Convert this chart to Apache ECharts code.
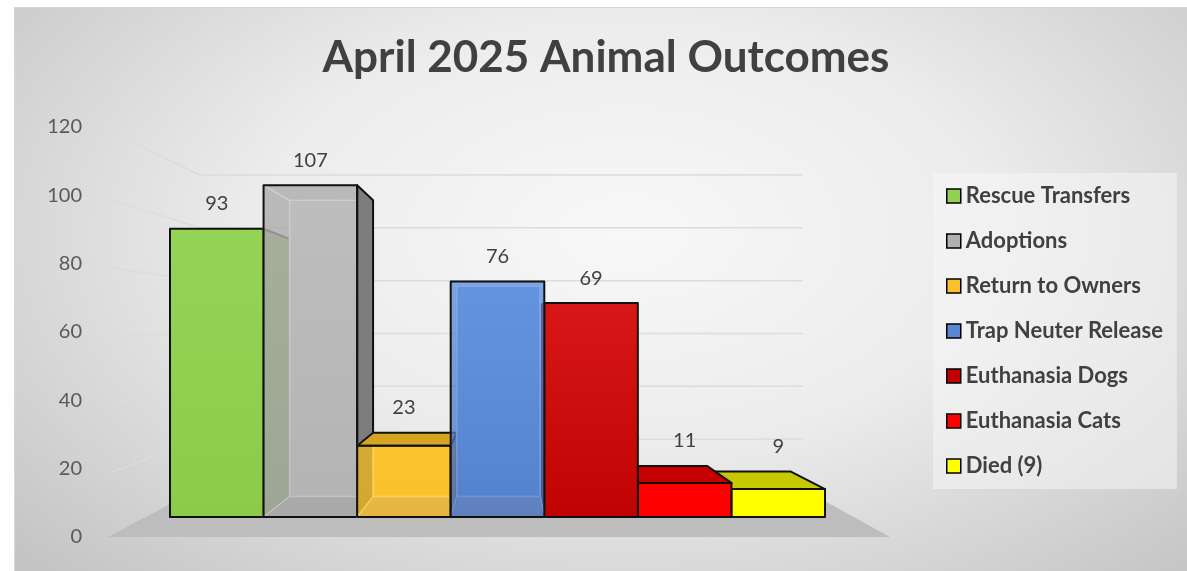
<!DOCTYPE html>
<html>
<head>
<meta charset="utf-8">
<script src="https://cdn.jsdelivr.net/npm/echarts@6/dist/echarts.min.js"></script>
<style>
html,body{margin:0;padding:0;background:#fff;}
#bg{position:absolute;left:14px;top:7px;width:1173px;height:564px;box-sizing:border-box;
  border-top:1px solid #d6d6d6;border-left:1px solid #d6d6d6;
  background:radial-gradient(ellipse 70% 85% at 52% 40%, #f8f8f8 0%, #ececec 45%, #c4c4c4 100%);}
#chart{position:absolute;left:0;top:0;width:1187px;height:571px;}
</style>
</head>
<body>
<div id="bg"></div>
<div id="chart"></div>
<script>
var categories = ['Rescue Transfers', 'Adoptions', 'Return to Owners', 'Trap Neuter Release',
                  'Euthanasia Dogs', 'Euthanasia Cats', 'Died (9)'];
var counts = [93, 107, 23, 76, 69, 11, 9];
var yTicks = [0, 20, 40, 60, 80, 100, 120];

// 3d look: vanishing point and depth of bars / back wall
var VP = [506, 325];
var DEPTH = 0.107;
var WALL = 0.227;
var FLOOR_L = 108, FLOOR_R = 890;
var FONT = 'Lato';

var legendColors = ['#92d050', '#b0b0b0', '#fbc02d', '#5b87d0', '#c00000', '#ff0000', '#ffff00'];
// face colours per bar
var barLook = [
    {front: ['#95d354', '#8ccb4a'], side: '#77ae3e', top: '#7fbb45'},
    {glass: true, front: ['rgba(150,150,150,0.15)', 'rgba(120,120,120,0.22)'], back: '#c4c4c4',
        inner: 'rgba(180,180,180,0.8)', innerEdge: 'rgba(215,215,215,0.9)', side: '#7d7d7d', top: '#9a9a9a'},
    {glass: true, front: ['rgba(250,190,20,0.3)', 'rgba(240,175,10,0.35)'], back: '#fcc83a',
        inner: 'rgba(245,185,30,0.6)', innerEdge: 'rgba(255,225,140,0.9)', side: '#c8921a', top: '#d6a420'},
    {glass: true, front: ['rgba(90,140,225,0.3)', 'rgba(60,100,180,0.45)'], back: '#6797de',
        inner: 'rgba(80,125,200,0.6)', innerEdge: 'rgba(150,185,240,0.9)', side: '#3e6aae', top: '#4f7cc4'},
    {front: ['#d81818', '#c00202'], side: '#8e0000', top: '#a60000'},
    {front: ['#ff0000', '#ff0000'], side: '#b00000', top: '#c40000'},
    {front: ['#ffff00', '#ffff00'], side: '#a8a800', top: '#c8c800'}
];

function proj(p, t) {
    return [p[0] + t * (VP[0] - p[0]), p[1] + t * (VP[1] - p[1])];
}

function poly(pts, fill, stroke, lw) {
    return {type: 'polygon', shape: {points: pts}, silent: true,
        style: {fill: fill, stroke: stroke || 'none', lineWidth: lw || 0, lineJoin: 'round'}};
}

function renderBar(params, api) {
    var i = api.value(0), v = api.value(1);
    var look = barLook[i];
    var base = api.coord([i, 0]), top = api.coord([i, v]);
    var w = api.size([1, 0])[0];
    var x0 = base[0] - w / 2, x1 = base[0] + w / 2, yT = top[1], yB = base[1];
    var f = [[x0, yT], [x1, yT], [x1, yB], [x0, yB]];
    var b = f.map(function (p) { return proj(p, DEPTH); });
    var kids = [];
    var edge = '#111';
    var front = {type: 'linear', x: 0, y: 0, x2: 0, y2: 1,
        colorStops: [{offset: 0, color: look.front[0]}, {offset: 1, color: look.front[1]}]};
    if (look.glass) {
        //inside of the box, seen through the front
        kids.push(poly(b, look.back, look.innerEdge, 1.5));
        kids.push(poly([f[3], f[2], b[2], b[3]], look.inner, look.innerEdge, 1.5));
        if (x0 < VP[0]) kids.push(poly([f[0], b[0], b[3], f[3]], look.inner, look.innerEdge, 1.5));
        if (x1 > VP[0]) kids.push(poly([f[1], b[1], b[2], f[2]], look.inner, look.innerEdge, 1.5));
        if (yT < VP[1]) kids.push(poly([f[0], f[1], b[1], b[0]], look.inner, look.innerEdge, 1.5));
    }
    if (x1 < VP[0]) kids.push(poly([f[1], b[1], b[2], f[2]], look.side, edge, 2));
    if (x0 > VP[0]) kids.push(poly([f[0], b[0], b[3], f[3]], look.side, edge, 2));
    if (yT > VP[1]) kids.push(poly([f[0], f[1], b[1], b[0]], look.top, edge, 2));
    kids.push(poly(f, front, edge, 2));
    kids.push({type: 'text', silent: true, x: base[0], y: Math.min(yT, b[0][1]) - 25,
        style: {text: String(v), fill: '#404040', fontSize: 20, fontFamily: FONT,
            align: 'center', verticalAlign: 'middle'}});
    return {type: 'group', children: kids};
}

function renderWall(params, api) {
    var v = api.value(1);
    var p = api.coord([0, v]);
    if (v === 0) {
        var fl = [FLOOR_L, p[1]], fr = [FLOOR_R, p[1]];
        return poly([fl, fr, proj(fr, WALL), proj(fl, WALL)], '#bdbdbd');
    }
    var s = [p[0] + 20, p[1] + 4];
    var e = proj(s, WALL);
    var xr = FLOOR_R + WALL * (VP[0] - FLOOR_R);
    return {type: 'polyline', silent: true, shape: {points: [s, e, [xr, e[1]]]},
        style: {stroke: '#dcdcdc', lineWidth: 1.5, fill: 'none'}};
}

var chart = echarts.init(document.getElementById('chart'));

var series = [{
    type: 'custom', name: 'wall', xAxisIndex: 0, yAxisIndex: 0, z: 1,
    data: yTicks.map(function (v) { return [0, v]; }),
    renderItem: renderWall
}];
categories.forEach(function (name, i) {
    series.push({
        type: 'custom', name: name, xAxisIndex: 1, yAxisIndex: 1,
        z: 3 + (3 - Math.abs(i - 3)),
        itemStyle: {color: legendColors[i]},
        data: [[i, counts[i]]],
        renderItem: renderBar
    });
});

chart.setOption({
    animation: false,
    title: {
        text: 'April 2025 Animal Outcomes',
        left: 601, top: 31, textAlign: 'center',
        textStyle: {fontFamily: FONT, fontSize: 44, fontWeight: 'bold', color: '#404040'}
    },
    legend: {
        data: categories, orient: 'vertical', left: 933, top: 173,
        padding: [12, 14, 12, 13], backgroundColor: 'rgba(245,245,245,0.55)',
        icon: 'rect', itemWidth: 14, itemHeight: 14, itemGap: 23, selectedMode: false,
        itemStyle: {borderColor: '#000', borderWidth: 1.5},
        textStyle: {fontFamily: FONT, fontWeight: 'bold', fontSize: 22, color: '#404040', lineHeight: 22}
    },
    grid: [
        {left: 90, right: 297, top: 127, bottom: 34},
        {left: 170, right: 362, top: 145, bottom: 54}
    ],
    xAxis: [
        {type: 'value', gridIndex: 0, min: 0, max: 1, show: false},
        {type: 'category', gridIndex: 1, data: categories, show: false}
    ],
    yAxis: [
        {type: 'value', gridIndex: 0, min: 0, max: 120, interval: 20,
            axisLine: {show: false}, axisTick: {show: false}, splitLine: {show: false},
            axisLabel: {color: '#595959', fontSize: 20, fontFamily: FONT, margin: 8}},
        {type: 'value', gridIndex: 1, min: 0, max: 120, show: false}
    ],
    series: series
});
</script>
</body>
</html>
